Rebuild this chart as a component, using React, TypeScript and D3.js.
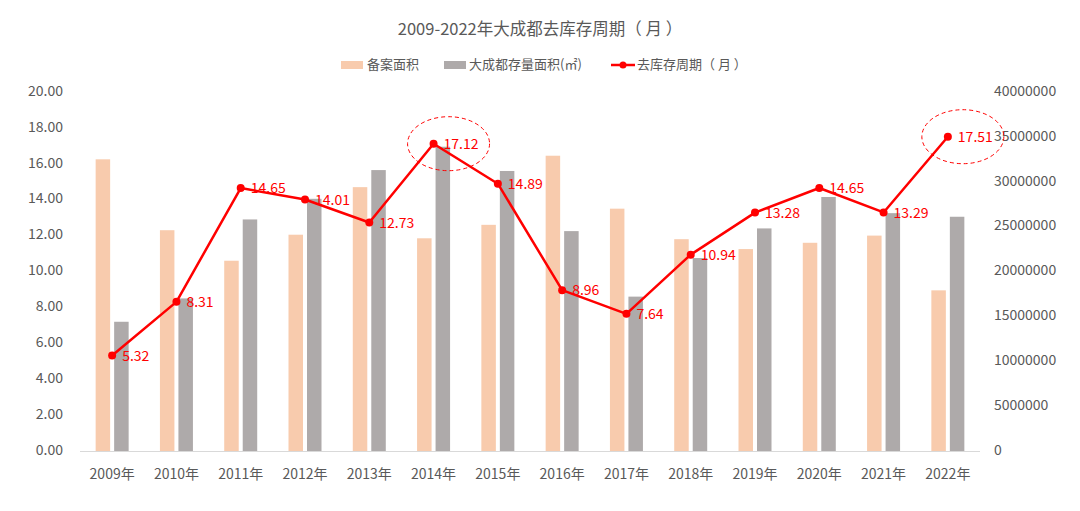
import React from "react";
import * as d3 from "d3";

const years = ["2009年","2010年","2011年","2012年","2013年","2014年","2015年","2016年","2017年","2018年","2019年","2020年","2021年","2022年"];
const filedArea = [32500000,24600000,21200000,24100000,29400000,23700000,25200000,32900000,27000000,23600000,22500000,23200000,24000000,17900000];
const stockArea = [14400000,17000000,25800000,28100000,31300000,33900000,31200000,24500000,17200000,21500000,24800000,28300000,26500000,26100000];
const cycle = [5.32,8.31,14.65,14.01,12.73,17.12,14.89,8.96,7.64,10.94,13.28,14.65,13.29,17.51];
const leftTicks = [0,2,4,6,8,10,12,14,16,18,20];
const rightTicks = [0,5000000,10000000,15000000,20000000,25000000,30000000,35000000,40000000];
const highlighted = [5, 13];

const W = 1080, H = 511;
const FONT = '"Noto Sans CJK SC", "Noto Sans", sans-serif';
const TEXT = "#595959";
const PEACH = "#F8CBAD";
const GRAY = "#AEAAAA";
const RED = "#FF0000";

export default function App() {
  const x = d3.scaleBand<string>().domain(years).range([80, 980]).paddingInner(0).paddingOuter(0);
  const yL = d3.scaleLinear().domain([0, 20]).range([451, 92]);
  const yR = d3.scaleLinear().domain([0, 40000000]).range([451, 92]);
  const cx = (i: number) => (x(years[i]) as number) + x.bandwidth() / 2;
  const barW = 14.5;
  const gap = 2;
  const line = d3.line<number>().x((_, i) => cx(i)).y((d) => yL(d));

  return (
    <svg width={W} height={H} style={{ position: "absolute", left: 0, top: 0, background: "#fff" }} fontFamily={FONT}>
      <text x={540} y={31} textAnchor="middle" dominantBaseline="middle" fontSize={16.5} fill={TEXT} style={{ whiteSpace: "pre" }}>2009-2022年大成都去库存周期（ 月 ）</text>
      {/* legend */}
      <g fontSize={13} fill={TEXT}>
        <rect x={341} y={61} width={22} height={8} fill={PEACH} />
        <text x={367} y={65.5} dominantBaseline="middle">备案面积</text>
        <rect x={444} y={61} width={22} height={8} fill={GRAY} />
        <text x={469} y={65.5} dominantBaseline="middle">大成都存量面积(㎡)</text>
        <line x1={611} x2={635} y1={65} y2={65} stroke={RED} strokeWidth={2.5} />
        <circle cx={623} cy={65} r={3.5} fill={RED} />
        <text x={637} y={65.5} dominantBaseline="middle" style={{ whiteSpace: "pre" }}>去库存周期（ 月 ）</text>
      </g>
      {/* left axis */}
      <g fontSize={14} fill={TEXT}>
        {leftTicks.map((t) => (
          <text key={t} x={63} y={yL(t)} textAnchor="end" dominantBaseline="middle">{t.toFixed(2)}</text>
        ))}
      </g>
      {/* right axis */}
      <g fontSize={14} fill={TEXT}>
        {rightTicks.map((t) => (
          <text key={t} x={994} y={yR(t)} textAnchor="start" dominantBaseline="middle">{String(t)}</text>
        ))}
      </g>
      {/* bars */}
      {years.map((yr, i) => (
        <g key={yr}>
          <rect x={cx(i) - gap - barW} y={yR(filedArea[i])} width={barW} height={451 - yR(filedArea[i])} fill={PEACH} />
          <rect x={cx(i) + gap} y={yR(stockArea[i])} width={barW} height={451 - yR(stockArea[i])} fill={GRAY} />
        </g>
      ))}
      <line x1={80} x2={980} y1={451.5} y2={451.5} stroke="#D9D9D9" strokeWidth={1} />
      {/* x labels */}
      <g fontSize={14} fill={TEXT}>
        {years.map((yr, i) => (
          <text key={yr} x={cx(i)} y={475} textAnchor="middle" dominantBaseline="middle">{yr}</text>
        ))}
      </g>
      {/* line */}
      <path d={line(cycle) || ""} fill="none" stroke={RED} strokeWidth={2.5} strokeLinejoin="round" />
      {cycle.map((v, i) => (
        <circle key={i} cx={cx(i)} cy={yL(v)} r={4} fill={RED} />
      ))}
      <g fontSize={14} fill={RED}>
        {cycle.map((v, i) => (
          <text key={i} x={cx(i) + 10} y={yL(v) + 1.5} dominantBaseline="middle">{v.toFixed(2)}</text>
        ))}
      </g>
      {highlighted.map((i) => (
        <ellipse key={i} cx={cx(i) + 15} cy={yL(cycle[i])} rx={41} ry={27} fill="none" stroke={RED} strokeWidth={1} strokeDasharray="4 3" />
      ))}
    </svg>
  );
}
